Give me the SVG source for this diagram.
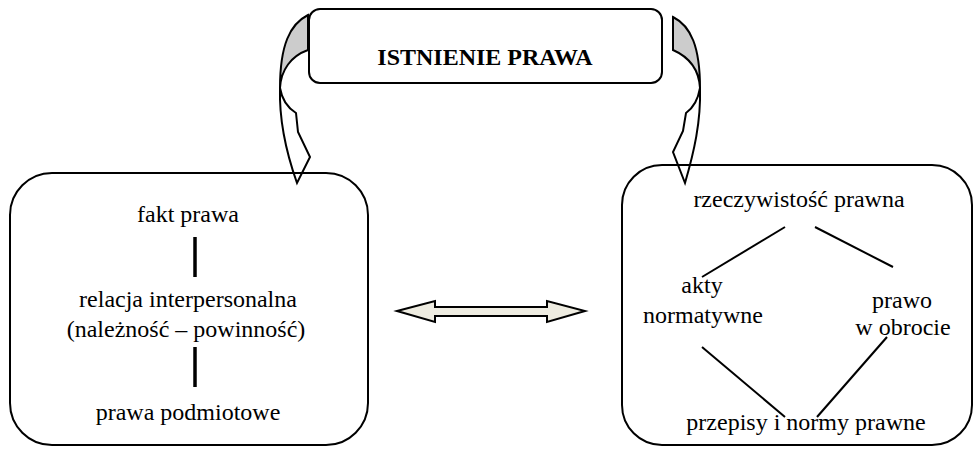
<svg xmlns="http://www.w3.org/2000/svg" width="974" height="449" viewBox="0 0 974 449">
<defs>
<style>
.t{font-family:"Liberation Serif","Times New Roman",serif;font-size:24px;fill:#000;text-anchor:middle}
.b{font-weight:bold}
.box{fill:none;stroke:#000;stroke-width:2}
.ln{stroke:#000;stroke-width:2;fill:none}
.bar{stroke:#000;stroke-width:3.5;fill:none}
.arw{fill:#fff;stroke:#000;stroke-width:2;stroke-linejoin:miter}
.back{fill:#cccccc;stroke:#000;stroke-width:2}
</style>
</defs>
<rect width="974" height="449" fill="#fff"/>

<g id="connectors">
  <!-- left curved arrow -->
  <path class="arw" d="M280,88 C279,122 286,152 297,183 L310,157 L298,132 L296,113 C288,108 282,100 280,88 Z"/>
  <path class="back" d="M308,15 C290,24 280,45 280,88 C281,70 291,56 308,50 Z"/>
  <!-- right curved arrow -->
  <path class="arw" d="M700,88 C701,122 694,152 685,183 L673,152 L683,131 L686,113 C693,108 698,100 700,88 Z"/>
  <path class="back" d="M673,17 C691,26 700,47 700,88 C699,70 689,57 673,50 Z"/>
  <!-- double arrow -->
  <path d="M397,311 L435,301 L435,307 L547,307 L547,301 L585,311 L547,322 L547,316 L435,316 L435,322 Z" fill="#eeece1" stroke="#000" stroke-width="2"/>
  <!-- left box bars -->
  <line class="bar" x1="195" y1="237" x2="195" y2="277"/>
  <line class="bar" x1="195" y1="347" x2="195" y2="387"/>
  <!-- right box lines -->
  <line class="ln" x1="785" y1="227" x2="702" y2="277"/>
  <line class="ln" x1="815" y1="227" x2="893" y2="267"/>
  <line class="ln" x1="702" y1="347" x2="785" y2="417"/>
  <line class="ln" x1="887" y1="337" x2="817" y2="417"/>
</g>

<g id="top">
  <rect class="box" x="309" y="9" width="353" height="74" rx="11" style="fill:#fff"/>
  <text class="t b" x="485" y="65">ISTNIENIE PRAWA</text>
</g>

<g id="left">
  <rect class="box" x="10" y="173" width="358" height="272" rx="42"/>
  <text class="t" x="188" y="222">fakt prawa</text>
  <text class="t" x="188" y="307">relacja interpersonalna</text>
  <text class="t" x="186" y="337">(należność – powinność)</text>
  <text class="t" x="188" y="420">prawa podmiotowe</text>
</g>

<g id="right">
  <rect class="box" x="622" y="165" width="350" height="280" rx="40"/>
  <text class="t" x="799" y="207">rzeczywistość prawna</text>
  <text class="t" x="702" y="293">akty</text>
  <text class="t" x="703" y="323">normatywne</text>
  <text class="t" x="902" y="308">prawo</text>
  <text class="t" x="903" y="335">w obrocie</text>
  <text class="t" x="806" y="430">przepisy i normy prawne</text>
</g>
</svg>
